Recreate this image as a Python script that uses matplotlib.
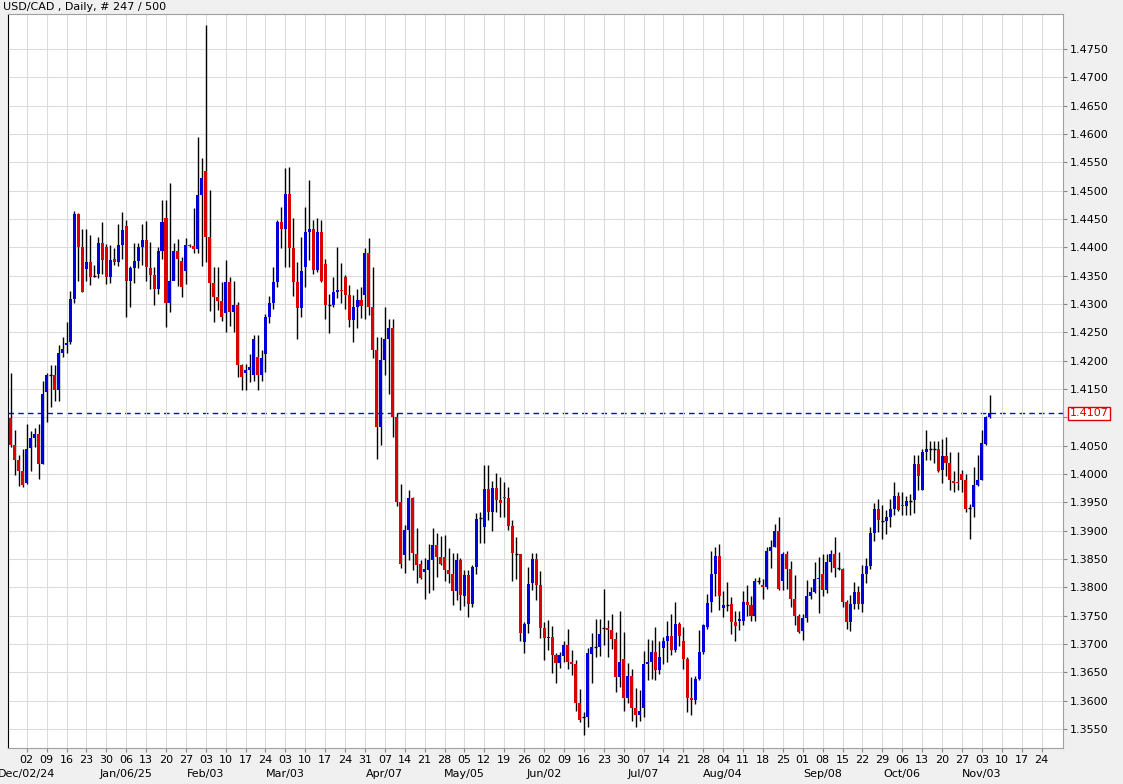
import matplotlib
matplotlib.use("Agg")
import matplotlib.pyplot as plt
import pandas as pd

# daily OHLC, one entry per trading day from 2024-11-26
opens = [1.4098, 1.4051, 1.4025, 1.4006, 1.3984, 1.4046, 1.4064, 1.4070, 1.4017, 1.4145,
         1.4174, 1.4174, 1.4149, 1.4214, 1.4227, 1.4233, 1.4309, 1.4459, 1.4401, 1.4361,
         1.4374, 1.4350, 1.4353, 1.4408, 1.4400, 1.4347, 1.4379, 1.4374, 1.4404, 1.4437,
         1.4341, 1.4363, 1.4376, 1.4401, 1.4413, 1.4363, 1.4351, 1.4326, 1.4394, 1.4451,
         1.4302, 1.4340, 1.4394, 1.4376, 1.4359, 1.4404, 1.4402, 1.4397, 1.4492, 1.4535,
         1.4419, 1.4337, 1.4313, 1.4306, 1.4284, 1.4338, 1.4286, 1.4299, 1.4192, 1.4178,
         1.4183, 1.4174, 1.4206, 1.4174, 1.4212, 1.4277, 1.4301, 1.4339, 1.4445, 1.4433,
         1.4495, 1.4398, 1.4339, 1.4293, 1.4365, 1.4427, 1.4433, 1.4360, 1.4427, 1.4370,
         1.4298, 1.4298, 1.4322, 1.4325, 1.4347, 1.4316, 1.4272, 1.4294, 1.4307, 1.4316,
         1.4390,
         1.4294, 1.4218, 1.4083, 1.4201, 1.4239, 1.4257, 1.4101, 1.3951, 1.3857, 1.3901,
         1.3957, 1.3859, 1.3841, 1.3827, 1.3831, 1.3849, 1.3874, 1.3854, 1.3854, 1.3830,
         1.3823, 1.3794, 1.3849, 1.3784, 1.3822, 1.3770, 1.3836, 1.3923, 1.3906, 1.3973,
         1.3933, 1.3976, 1.3955, 1.3960, 1.3957, 1.3909, 1.3860, 1.3858, 1.3703, 1.3736,
         1.3807, 1.3850, 1.3805, 1.3729, 1.3711, 1.3713, 1.3680, 1.3666, 1.3678, 1.3699,
         1.3668, 1.3664, 1.3596, 1.3571, 1.3572, 1.3682, 1.3695, 1.3695, 1.3729, 1.3729,
         1.3724, 1.3709, 1.3641, 1.3674, 1.3605, 1.3643, 1.3587, 1.3574, 1.3587, 1.3664,
         1.3668, 1.3686, 1.3654, 1.3693, 1.3705, 1.3715, 1.3689, 1.3736, 1.3706, 1.3674,
         1.3605, 1.3601, 1.3639, 1.3686, 1.3730, 1.3774, 1.3824, 1.3856, 1.3764, 1.3770,
         1.3770, 1.3738, 1.3740, 1.3741, 1.3774, 1.3768, 1.3750, 1.3812, 1.3805, 1.3801,
         1.3865, 1.3872, 1.3900, 1.3812, 1.3858, 1.3832, 1.3780, 1.3750, 1.3723, 1.3746,
         1.3784, 1.3792, 1.3815, 1.3824, 1.3796, 1.3845, 1.3858, 1.3835, 1.3833, 1.3774,
         1.3739, 1.3770, 1.3792, 1.3770, 1.3823, 1.3837, 1.3896, 1.3939, 1.3918, 1.3917,
         1.3924, 1.3939, 1.3961, 1.3945, 1.3943, 1.3952, 1.3954, 1.4018, 1.3972, 1.4039,
         1.4044, 1.4045, 1.4044, 1.4007, 1.4031, 1.4019, 1.3987, 1.3986, 1.4000, 1.3990,
         1.3939, 1.3942, 1.3980, 1.3990, 1.4053, 1.4100]
highs = [1.4178, 1.4077, 1.4033, 1.4045, 1.4089, 1.4076, 1.4082, 1.4089, 1.4164, 1.4178,
         1.4193, 1.4193, 1.4227, 1.4242, 1.4269, 1.4323, 1.4465, 1.4460, 1.4433, 1.4433,
         1.4421, 1.4368, 1.4418, 1.4444, 1.4406, 1.4404, 1.4398, 1.4441, 1.4463, 1.4448,
         1.4367, 1.4407, 1.4407, 1.4442, 1.4447, 1.4410, 1.4366, 1.4401, 1.4483, 1.4483,
         1.4513, 1.4407, 1.4414, 1.4383, 1.4416, 1.4406, 1.4470, 1.4594, 1.4557, 1.4792,
         1.4502, 1.4365, 1.4365, 1.4339, 1.4377, 1.4348, 1.4341, 1.4303, 1.4195, 1.4195,
         1.4211, 1.4245, 1.4245, 1.4219, 1.4283, 1.4315, 1.4366, 1.4448, 1.4471, 1.4540,
         1.4542, 1.4451, 1.4374, 1.4418, 1.4471, 1.4518, 1.4448, 1.4452, 1.4448, 1.4379,
         1.4317, 1.4348, 1.4401, 1.4372, 1.4351, 1.4333, 1.4316, 1.4327, 1.4330, 1.4398,
         1.4416, 1.4366, 1.4242, 1.4242, 1.4294, 1.4273, 1.4273, 1.4107, 1.3983, 1.3910,
         1.3972, 1.3959, 1.3904, 1.3848, 1.3851, 1.3877, 1.3904, 1.3896, 1.3890, 1.3892,
         1.3870, 1.3860, 1.3860, 1.3851, 1.3830, 1.3830, 1.3839, 1.3931, 1.3933, 1.4016,
         1.4016, 1.3988, 1.4002, 1.3994, 1.3986, 1.3977, 1.3918, 1.3889, 1.3859, 1.3739,
         1.3836, 1.3860, 1.3860, 1.3829, 1.3739, 1.3743, 1.3731, 1.3684, 1.3686, 1.3706,
         1.3727, 1.3689, 1.3672, 1.3621, 1.3580, 1.3693, 1.3719, 1.3745, 1.3745, 1.3797,
         1.3743, 1.3753, 1.3721, 1.3759, 1.3721, 1.3666, 1.3656, 1.3623, 1.3618, 1.3687,
         1.3709, 1.3707, 1.3730, 1.3706, 1.3712, 1.3741, 1.3753, 1.3774, 1.3739, 1.3730,
         1.3677, 1.3641, 1.3644, 1.3725, 1.3736, 1.3788, 1.3865, 1.3871, 1.3877, 1.3794,
         1.3809, 1.3783, 1.3758, 1.3759, 1.3794, 1.3805, 1.3785, 1.3817, 1.3818, 1.3815,
         1.3871, 1.3884, 1.3911, 1.3924, 1.3862, 1.3865, 1.3847, 1.3821, 1.3753, 1.3753,
         1.3813, 1.3800, 1.3845, 1.3853, 1.3858, 1.3858, 1.3866, 1.3889, 1.3862, 1.3835,
         1.3777, 1.3786, 1.3809, 1.3803, 1.3839, 1.3851, 1.3906, 1.3949, 1.3956, 1.3945,
         1.3936, 1.3956, 1.3986, 1.3968, 1.3968, 1.3962, 1.3965, 1.4033, 1.4033, 1.4044,
         1.4078, 1.4059, 1.4059, 1.4059, 1.4062, 1.4065, 1.4039, 1.4006, 1.4039, 1.4007,
         1.4000, 1.3947, 1.4013, 1.4033, 1.4077, 1.4103, 1.4139]
lows = [1.4048, 1.3998, 1.3979, 1.3977, 1.3982, 1.4006, 1.4048, 1.3991, 1.4017, 1.4091,
        1.4118, 1.4129, 1.4129, 1.4206, 1.4214, 1.4229, 1.4302, 1.4341, 1.4321, 1.4341,
        1.4334, 1.4347, 1.4346, 1.4353, 1.4336, 1.4337, 1.4369, 1.4367, 1.4380, 1.4277,
        1.4295, 1.4337, 1.4363, 1.4369, 1.4341, 1.4327, 1.4298, 1.4317, 1.4380, 1.4260,
        1.4286, 1.4342, 1.4332, 1.4313, 1.4336, 1.4400, 1.4390, 1.4390, 1.4367, 1.4374,
        1.4288, 1.4268, 1.4289, 1.4270, 1.4251, 1.4261, 1.4251, 1.4171, 1.4149, 1.4149,
        1.4162, 1.4165, 1.4149, 1.4165, 1.4180, 1.4266, 1.4292, 1.4330, 1.4398, 1.4365,
        1.4366, 1.4315, 1.4239, 1.4277, 1.4330, 1.4377, 1.4353, 1.4357, 1.4339, 1.4273,
        1.4249, 1.4294, 1.4310, 1.4301, 1.4292, 1.4260, 1.4233, 1.4257, 1.4275, 1.4273,
        1.4280, 1.4204, 1.4026, 1.4051, 1.4175, 1.4142, 1.4066, 1.3943, 1.3834, 1.3826,
        1.3848, 1.3830, 1.3807, 1.3814, 1.3780, 1.3790, 1.3796, 1.3819, 1.3839, 1.3812,
        1.3807, 1.3769, 1.3777, 1.3760, 1.3767, 1.3748, 1.3766, 1.3824, 1.3879, 1.3879,
        1.3919, 1.3900, 1.3933, 1.3924, 1.3924, 1.3901, 1.3811, 1.3815, 1.3706, 1.3684,
        1.3719, 1.3795, 1.3777, 1.3711, 1.3672, 1.3690, 1.3649, 1.3631, 1.3658, 1.3668,
        1.3656, 1.3646, 1.3582, 1.3562, 1.3539, 1.3553, 1.3631, 1.3677, 1.3678, 1.3698,
        1.3677, 1.3691, 1.3615, 1.3624, 1.3582, 1.3596, 1.3565, 1.3554, 1.3565, 1.3572,
        1.3636, 1.3639, 1.3637, 1.3647, 1.3665, 1.3668, 1.3680, 1.3686, 1.3696, 1.3656,
        1.3580, 1.3574, 1.3594, 1.3636, 1.3683, 1.3727, 1.3756, 1.3785, 1.3760, 1.3747,
        1.3759, 1.3718, 1.3706, 1.3724, 1.3733, 1.3750, 1.3740, 1.3741, 1.3806, 1.3780,
        1.3797, 1.3835, 1.3871, 1.3795, 1.3795, 1.3797, 1.3766, 1.3734, 1.3719, 1.3707,
        1.3738, 1.3780, 1.3790, 1.3754, 1.3784, 1.3790, 1.3827, 1.3818, 1.3830, 1.3765,
        1.3727, 1.3723, 1.3762, 1.3762, 1.3756, 1.3808, 1.3833, 1.3882, 1.3898, 1.3886,
        1.3895, 1.3906, 1.3927, 1.3935, 1.3927, 1.3927, 1.3927, 1.3931, 1.3971, 1.3971,
        1.4024, 1.4024, 1.4019, 1.4003, 1.3984, 1.3997, 1.3972, 1.3968, 1.3971, 1.3968,
        1.3933, 1.3886, 1.3925, 1.3978, 1.3989, 1.4052, 1.4099]
closes = [1.4051, 1.4025, 1.4006, 1.3980, 1.4045, 1.4063, 1.4070, 1.4017, 1.4141, 1.4174,
          1.4174, 1.4149, 1.4214, 1.4221, 1.4232, 1.4309, 1.4459, 1.4401, 1.4322, 1.4374,
          1.4347, 1.4350, 1.4408, 1.4377, 1.4347, 1.4377, 1.4375, 1.4404, 1.4430, 1.4341,
          1.4363, 1.4376, 1.4401, 1.4413, 1.4365, 1.4351, 1.4326, 1.4394, 1.4445, 1.4302,
          1.4340, 1.4394, 1.4379, 1.4330, 1.4404, 1.4402, 1.4397, 1.4492, 1.4523, 1.4419,
          1.4337, 1.4313, 1.4306, 1.4277, 1.4338, 1.4286, 1.4299, 1.4192, 1.4172, 1.4183,
          1.4188, 1.4239, 1.4174, 1.4205, 1.4277, 1.4301, 1.4339, 1.4445, 1.4433, 1.4495,
          1.4398, 1.4339, 1.4293, 1.4358, 1.4427, 1.4433, 1.4360, 1.4427, 1.4341, 1.4298,
          1.4298, 1.4322, 1.4325, 1.4323, 1.4316, 1.4272, 1.4294, 1.4307, 1.4296, 1.4390,
          1.4294, 1.4218, 1.4083, 1.4201, 1.4239, 1.4257, 1.4101, 1.3951, 1.3842, 1.3901,
          1.3957, 1.3860, 1.3839, 1.3817, 1.3832, 1.3849, 1.3874, 1.3853, 1.3841, 1.3830,
          1.3823, 1.3794, 1.3849, 1.3786, 1.3822, 1.3770, 1.3836, 1.3921, 1.3922, 1.3973,
          1.3933, 1.3976, 1.3955, 1.3949, 1.3957, 1.3908, 1.3860, 1.3859, 1.3719, 1.3735,
          1.3806, 1.3850, 1.3805, 1.3729, 1.3711, 1.3713, 1.3680, 1.3666, 1.3680, 1.3699,
          1.3668, 1.3664, 1.3596, 1.3566, 1.3572, 1.3684, 1.3695, 1.3694, 1.3718, 1.3729,
          1.3724, 1.3709, 1.3641, 1.3668, 1.3605, 1.3643, 1.3587, 1.3574, 1.3582, 1.3664,
          1.3668, 1.3686, 1.3654, 1.3677, 1.3705, 1.3715, 1.3689, 1.3736, 1.3715, 1.3674,
          1.3605, 1.3601, 1.3639, 1.3686, 1.3733, 1.3772, 1.3824, 1.3856, 1.3785, 1.3768,
          1.3769, 1.3738, 1.3731, 1.3744, 1.3774, 1.3768, 1.3750, 1.3812, 1.3811, 1.3801,
          1.3865, 1.3872, 1.3900, 1.3797, 1.3858, 1.3832, 1.3780, 1.3750, 1.3721, 1.3746,
          1.3784, 1.3791, 1.3815, 1.3817, 1.3796, 1.3845, 1.3858, 1.3835, 1.3834, 1.3774,
          1.3739, 1.3770, 1.3792, 1.3770, 1.3823, 1.3837, 1.3896, 1.3939, 1.3918, 1.3917,
          1.3924, 1.3939, 1.3961, 1.3937, 1.3943, 1.3952, 1.3953, 1.4018, 1.3997, 1.4039,
          1.4044, 1.4045, 1.4044, 1.4006, 1.4031, 1.4019, 1.3989, 1.3985, 1.3984, 1.3990,
          1.3939, 1.3940, 1.3980, 1.3990, 1.4054, 1.4100, 1.4107]

last_price = 1.4107
y_ticks = [1.3550 + 0.005 * k for k in range(25)]
month_marks = {"2024-12-02": "Dec/02/24", "2025-01-06": "Jan/06/25", "2025-02-03": "Feb/03",
               "2025-03-03": "Mar/03", "2025-04-07": "Apr/07", "2025-05-05": "May/05",
               "2025-06-02": "Jun/02", "2025-07-07": "Jul/07", "2025-08-04": "Aug/04",
               "2025-09-08": "Sep/08", "2025-10-06": "Oct/06", "2025-11-03": "Nov/03"}

days = pd.bdate_range("2024-11-26", "2025-11-28")
n = min(len(opens), len(highs), len(lows), len(closes))

fig = plt.figure(figsize=(11.23, 7.84), dpi=100, facecolor="#f0f0f0")
ax = fig.add_axes([8 / 1123, 1 - 748 / 784, 1055 / 1123, 734 / 784])
ax.set_facecolor("white")

for i in range(n):
    o, h, l, c = opens[i], highs[i], lows[i], closes[i]
    col = "#0000dd" if c >= o else "#dd0000"
    ax.vlines(i, l, h, color="black", lw=1, zorder=2)
    lo, hi = min(o, c), max(o, c)
    if hi - lo < 0.00015:
        ax.hlines((o + c) / 2, i - 0.38, i + 0.38, color="black", lw=1, zorder=3)
    else:
        ax.bar(i, hi - lo, bottom=lo, width=0.76, color=col, zorder=3, lw=0)

ax.axhline(last_price, color="#0000ff", ls=(0, (4, 3)), lw=1, zorder=1)

mondays = [k for k, d in enumerate(days) if d.weekday() == 0 and d >= pd.Timestamp("2024-12-02")]
ax.set_xticks(mondays)
ax.set_xticklabels([days[k].strftime("%d") for k in mondays], fontsize=8)
for k in mondays:
    key = days[k].strftime("%Y-%m-%d")
    if key in month_marks:
        ax.text(k, -0.028, month_marks[key], transform=ax.get_xaxis_transform(),
                ha="center", va="top", fontsize=8)

ax.set_xlim(-0.7, 264.4)
ax.set_ylim(1.35165, 1.48118)
ax.yaxis.tick_right()
ax.set_yticks(y_ticks)
# the last-price box takes the place of the nearby tick label
ax.set_yticklabels(["" if abs(v - last_price) < 0.002 else f"{v:.4f}" for v in y_ticks],
                   fontsize=8)
ax.grid(True, color="#dcdcdc", lw=0.8, zorder=0)
ax.tick_params(length=3, color="#888888", pad=2)
for s in ax.spines.values():
    s.set_color("#a0a0a0")
ax.spines["left"].set_color("black")

ax.text(1.006, last_price, f"{last_price:.4f}", transform=ax.get_yaxis_transform(),
        ha="left", va="center", fontsize=8, color="#dd0000",
        bbox=dict(boxstyle="square,pad=0.15", fc="white", ec="#dd0000", lw=1))
fig.text(3 / 1123, 1 - 7 / 784, "USD/CAD , Daily, # 247 / 500", fontsize=8, va="center")

fig.savefig("out.png", dpi=100, facecolor=fig.get_facecolor())
